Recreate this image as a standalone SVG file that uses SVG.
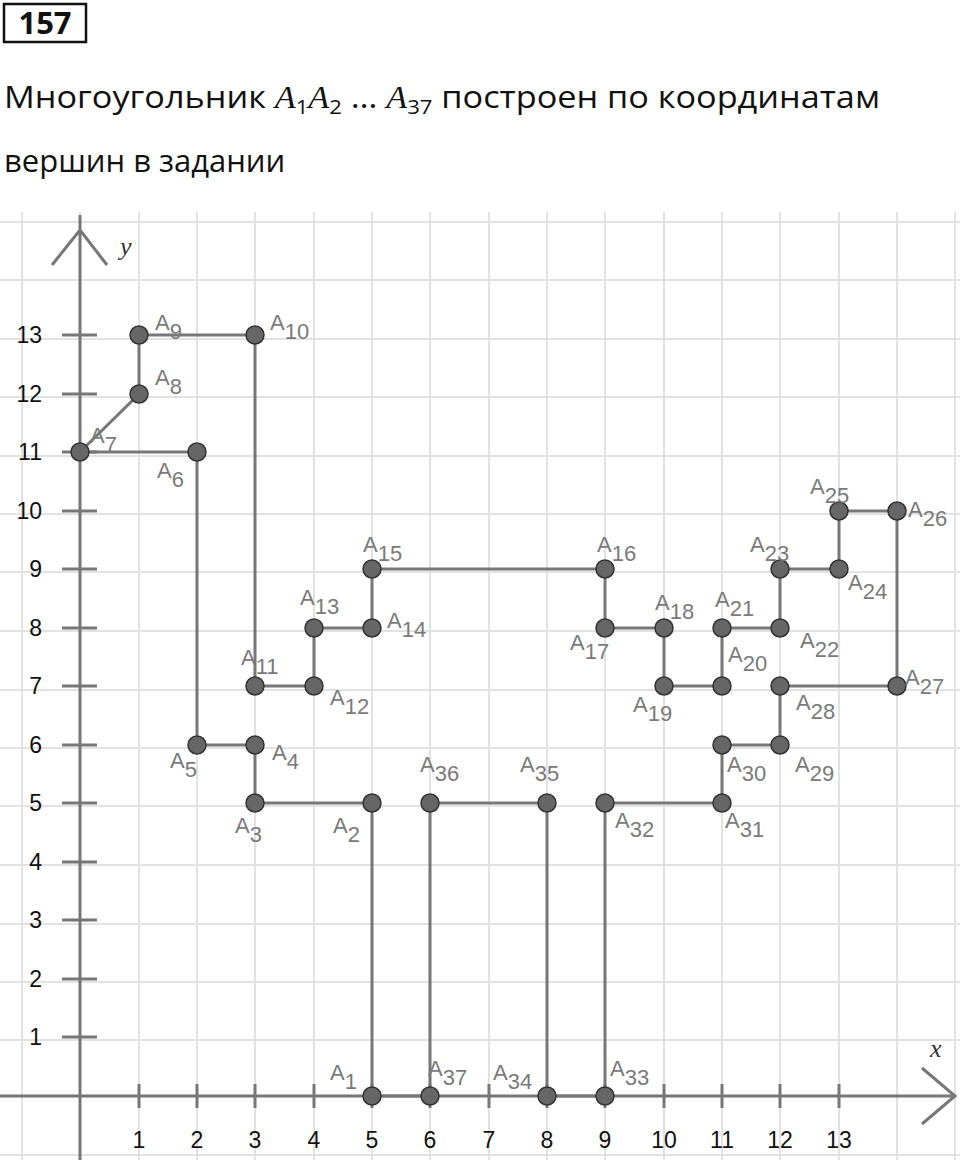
<svg xmlns="http://www.w3.org/2000/svg" width="960" height="1168" viewBox="0 0 960 1168">
<style>
.g{stroke:#e2e2e2;stroke-width:2}
.ax{stroke:#777;stroke-width:3;fill:none}
.t{font-family:"Liberation Sans",Arial,sans-serif;font-size:23px;fill:#111}
.lb{font-family:"Liberation Sans",Arial,sans-serif;font-size:22px;fill:#7a7a7a}
.h{font-family:"Open Sans","Liberation Sans",sans-serif;font-size:31px;fill:#111}
.m{font-family:"Liberation Serif",serif;font-style:italic}
circle{fill:#666;stroke:#333;stroke-width:1.5}
</style>
<rect width="960" height="1168" fill="#fff"/>
<rect x="4" y="4" width="82" height="38" fill="none" stroke="#111" stroke-width="2.5"/>
<text x="45" y="34" text-anchor="middle" class="h" font-weight="bold">157</text>
<text x="4" y="108" class="h" textLength="876" lengthAdjust="spacingAndGlyphs">Многоугольник <tspan class="m">A</tspan><tspan font-size="20" dy="6">1</tspan><tspan class="m" dy="-6">A</tspan><tspan font-size="20" dy="6">2</tspan><tspan dy="-6"> … </tspan><tspan class="m">A</tspan><tspan font-size="20" dy="6">37</tspan><tspan dy="-6"> построен по координатам</tspan></text>
<text x="4" y="172" class="h">вершин в задании</text>
<g id="grid">
<path class="g" d="M22 212V1160M80 212V1160M139 212V1160M197 212V1160M255 212V1160M314 212V1160M372 212V1160M430 212V1160M489 212V1160M547 212V1160M605 212V1160M664 212V1160M722 212V1160M780 212V1160M839 212V1160M897 212V1160M955 212V1160"/>
<path class="g" d="M0 222H960M0 280H960M0 339H960M0 397H960M0 456H960M0 514H960M0 572H960M0 631H960M0 690H960M0 748H960M0 806H960M0 865H960M0 924H960M0 982H960M0 1040H960M0 1155H960"/>
</g>
<g id="axes">
<path class="ax" d="M80 1160V215M52 265L80 230L107 265M0 1096H955M922 1068L955 1096L922 1124"/>
<path class="ax" d="M139 1084V1108M197 1084V1108M255 1084V1108M314 1084V1108M372 1084V1108M430 1084V1108M489 1084V1108M547 1084V1108M605 1084V1108M664 1084V1108M722 1084V1108M780 1084V1108M839 1084V1108"/>
<path class="ax" d="M62 1037H97M62 979H97M62 920H97M62 862H97M62 803H97M62 745H97M62 686H97M62 628H97M62 569H97M62 511H97M62 452H97M62 394H97M62 335H97"/>
<text class="t" text-anchor="middle" y="1148"><tspan x="139">1</tspan><tspan x="197">2</tspan><tspan x="255">3</tspan><tspan x="314">4</tspan><tspan x="372">5</tspan><tspan x="430">6</tspan><tspan x="489">7</tspan><tspan x="547">8</tspan><tspan x="605">9</tspan><tspan x="664">10</tspan><tspan x="722">11</tspan><tspan x="780">12</tspan><tspan x="839">13</tspan></text>
<text class="t" text-anchor="end"><tspan x="42" y="1045">1</tspan><tspan x="42" y="987">2</tspan><tspan x="42" y="928">3</tspan><tspan x="42" y="870">4</tspan><tspan x="42" y="811">5</tspan><tspan x="42" y="753">6</tspan><tspan x="42" y="694">7</tspan><tspan x="42" y="636">8</tspan><tspan x="42" y="577">9</tspan><tspan x="42" y="519">10</tspan><tspan x="42" y="460">11</tspan><tspan x="42" y="402">12</tspan><tspan x="42" y="343">13</tspan></text>
<text x="120" y="255" font-family="Liberation Serif,serif" font-style="italic" font-size="26" fill="#333">y</text>
<text x="930" y="1057" font-family="Liberation Serif,serif" font-style="italic" font-size="26" fill="#333">x</text>
</g>
<g id="polygon">
<polygon points="372,1096 372,803 255,803 255,745 197,745 197,452 80,452 139,394 139,335 255,335 255,686 314,686 314,628 372,628 372,569 605,569 605,628 664,628 664,686 722,686 722,628 780,628 780,569 839,569 839,511 897,511 897,686 780,686 780,745 722,745 722,803 605,803 605,1096 547,1096 547,803 430,803 430,1096" fill="none" stroke="#777" stroke-width="3"/>
</g>
<g id="vertices">
<circle cx="372" cy="1096" r="9"/><circle cx="372" cy="803" r="9"/><circle cx="255" cy="803" r="9"/><circle cx="255" cy="745" r="9"/><circle cx="197" cy="745" r="9"/><circle cx="197" cy="452" r="9"/><circle cx="80" cy="452" r="9"/><circle cx="139" cy="394" r="9"/><circle cx="139" cy="335" r="9"/><circle cx="255" cy="335" r="9"/><circle cx="255" cy="686" r="9"/><circle cx="314" cy="686" r="9"/><circle cx="314" cy="628" r="9"/><circle cx="372" cy="628" r="9"/><circle cx="372" cy="569" r="9"/><circle cx="605" cy="569" r="9"/><circle cx="605" cy="628" r="9"/><circle cx="664" cy="628" r="9"/><circle cx="664" cy="686" r="9"/><circle cx="722" cy="686" r="9"/><circle cx="722" cy="628" r="9"/><circle cx="780" cy="628" r="9"/><circle cx="780" cy="569" r="9"/><circle cx="839" cy="569" r="9"/><circle cx="839" cy="511" r="9"/><circle cx="897" cy="511" r="9"/><circle cx="897" cy="686" r="9"/><circle cx="780" cy="686" r="9"/><circle cx="780" cy="745" r="9"/><circle cx="722" cy="745" r="9"/><circle cx="722" cy="803" r="9"/><circle cx="605" cy="803" r="9"/><circle cx="605" cy="1096" r="9"/><circle cx="547" cy="1096" r="9"/><circle cx="547" cy="803" r="9"/><circle cx="430" cy="803" r="9"/><circle cx="430" cy="1096" r="9"/>
</g>
<g id="labels" class="lb">
<text x="330" y="1080">A<tspan dy="9">1</tspan></text>
<text x="333" y="833">A<tspan dy="9">2</tspan></text>
<text x="235" y="833">A<tspan dy="9">3</tspan></text>
<text x="272" y="760">A<tspan dy="9">4</tspan></text>
<text x="170" y="768">A<tspan dy="9">5</tspan></text>
<text x="157" y="478">A<tspan dy="9">6</tspan></text>
<text x="90" y="443">A<tspan dy="9">7</tspan></text>
<text x="155" y="385">A<tspan dy="9">8</tspan></text>
<text x="155" y="330">A<tspan dy="9">9</tspan></text>
<text x="270" y="330">A<tspan dy="9">10</tspan></text>
<text x="241" y="665">A<tspan dy="9">11</tspan></text>
<text x="330" y="705">A<tspan dy="9">12</tspan></text>
<text x="300" y="605">A<tspan dy="9">13</tspan></text>
<text x="387" y="628">A<tspan dy="9">14</tspan></text>
<text x="363" y="552">A<tspan dy="9">15</tspan></text>
<text x="597" y="552">A<tspan dy="9">16</tspan></text>
<text x="570" y="650">A<tspan dy="9">17</tspan></text>
<text x="655" y="610">A<tspan dy="9">18</tspan></text>
<text x="633" y="712">A<tspan dy="9">19</tspan></text>
<text x="728" y="662">A<tspan dy="9">20</tspan></text>
<text x="715" y="607">A<tspan dy="9">21</tspan></text>
<text x="800" y="648">A<tspan dy="9">22</tspan></text>
<text x="750" y="552">A<tspan dy="9">23</tspan></text>
<text x="848" y="590">A<tspan dy="9">24</tspan></text>
<text x="810" y="494">A<tspan dy="9">25</tspan></text>
<text x="908" y="517">A<tspan dy="9">26</tspan></text>
<text x="905" y="685">A<tspan dy="9">27</tspan></text>
<text x="796" y="710">A<tspan dy="9">28</tspan></text>
<text x="795" y="772">A<tspan dy="9">29</tspan></text>
<text x="727" y="772">A<tspan dy="9">30</tspan></text>
<text x="725" y="828">A<tspan dy="9">31</tspan></text>
<text x="615" y="828">A<tspan dy="9">32</tspan></text>
<text x="610" y="1076">A<tspan dy="9">33</tspan></text>
<text x="493" y="1080">A<tspan dy="9">34</tspan></text>
<text x="520" y="772">A<tspan dy="9">35</tspan></text>
<text x="420" y="772">A<tspan dy="9">36</tspan></text>
<text x="428" y="1076">A<tspan dy="9">37</tspan></text>
</g>
</svg>
